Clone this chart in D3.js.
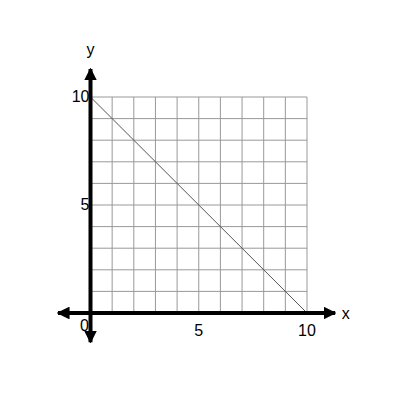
<!DOCTYPE html>
<html><head><meta charset="utf-8">
<script src="https://cdn.jsdelivr.net/npm/d3@7"></script>
<style>body{margin:0;background:#fff}text{font-family:"Liberation Sans",Arial,sans-serif;font-size:16px}</style>
</head><body>
<svg id="chart" width="400" height="400"></svg>
<script>
// data
var gridVals = [0,1,2,3,4,5,6,7,8,9,10];
var tickVals = [5,10];
var lineX = [0,10];
var lineY = [10,0];

var svg = d3.select("#chart");
var x = d3.scaleLinear().domain([0,10]).range([90.5,307]);
var y = d3.scaleLinear().domain([0,10]).range([313,97]);

// grid
svg.selectAll(".gv").data(gridVals).enter().append("line")
  .attr("x1", d => x(d)).attr("x2", d => x(d))
  .attr("y1", y(0)).attr("y2", y(10))
  .attr("stroke", "#999").attr("stroke-width", 1);
svg.selectAll(".gh").data(gridVals).enter().append("line")
  .attr("y1", d => y(d)).attr("y2", d => y(d))
  .attr("x1", x(0)).attr("x2", x(10))
  .attr("stroke", "#999").attr("stroke-width", 1);

// the line
svg.append("path")
  .attr("d", d3.line().x((d,i) => x(d)).y((d,i) => y(lineY[i]))(lineX))
  .attr("stroke", "#555").attr("stroke-width", 1).attr("fill", "none");

// axes with arrows
svg.append("defs").append("marker").attr("id","arr")
  .attr("viewBox","0 0 10 10").attr("refX",9).attr("refY",5)
  .attr("markerWidth",3.2).attr("markerHeight",3.2).attr("orient","auto-start-reverse")
  .append("path").attr("d","M0,0L10,5L0,10z").attr("fill","#000");
svg.append("line").attr("x1", x(-1.5)).attr("x2", x(11.3)).attr("y1", y(0)).attr("y2", y(0))
  .attr("stroke","#000").attr("stroke-width",4)
  .attr("marker-start","url(#arr)").attr("marker-end","url(#arr)");
svg.append("line").attr("x1", x(0)).attr("x2", x(0)).attr("y1", y(-1.35)).attr("y2", y(11.3))
  .attr("stroke","#000").attr("stroke-width",4)
  .attr("marker-start","url(#arr)").attr("marker-end","url(#arr)");

// tick labels
svg.selectAll(".xt").data(tickVals).enter().append("text")
  .attr("x", d => x(d)).attr("y", y(0) + 23).attr("text-anchor","middle").text(d => d);
svg.selectAll(".yt").data(tickVals).enter().append("text")
  .attr("x", x(0) - 1).attr("y", d => y(d) + 5).attr("text-anchor","end").text(d => d);
svg.append("text").attr("x", x(0) - 6).attr("y", y(0) + 18).attr("text-anchor","middle").text("0");
svg.append("text").attr("x", x(11.6)).attr("y", y(0) + 6).attr("font-size","20px").text("x");
svg.append("text").attr("x", x(0)).attr("y", y(11.95)).attr("text-anchor","middle").attr("font-size","20px").text("y");
</script>
</body></html>
